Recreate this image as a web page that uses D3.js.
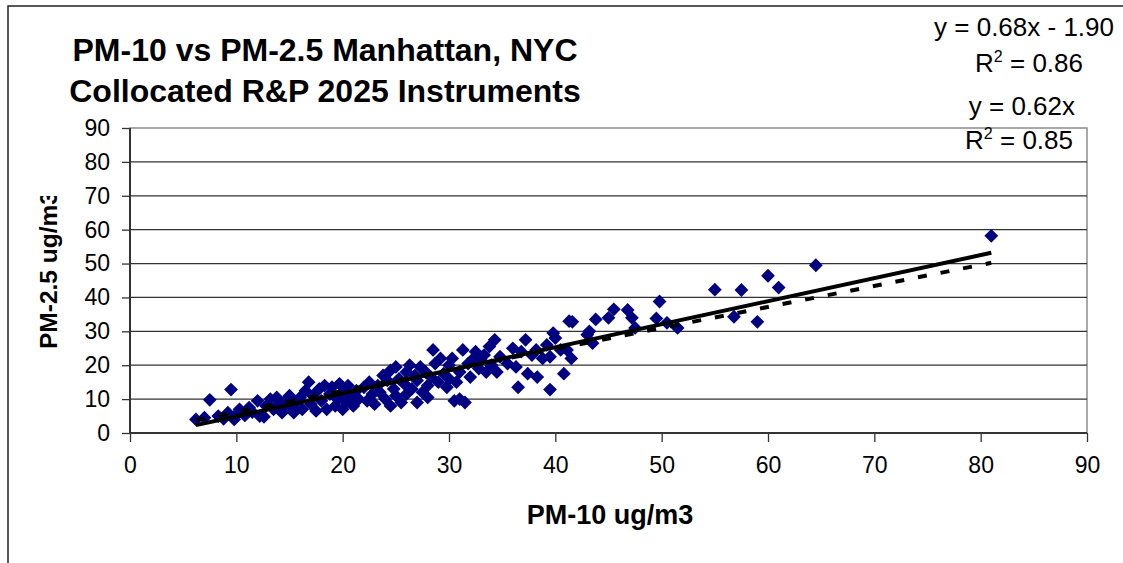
<!DOCTYPE html>
<html>
<head>
<meta charset="utf-8">
<script src="https://cdn.jsdelivr.net/npm/d3@7"></script>
<style>
  body { margin: 0; background: #fff; }
  text { font-family: Arial, "Liberation Sans", sans-serif; fill: #000; }
</style>
</head>
<body>
<svg id="chart" width="1123" height="563"></svg>
<script>
// PM-10 (x) vs PM-2.5 (y)
var pm10 = [6.2, 7.0, 7.5, 8.3, 8.8, 9.2, 9.5, 9.8, 10.0, 10.3,
  10.8, 11.2, 11.5, 12.0, 12.2, 12.6, 12.8, 13.2, 13.5, 13.8, 14.0, 14.3, 14.6, 15.0, 15.0,
  15.4, 15.6, 16.0, 16.2, 16.5, 16.8, 17.0, 17.2, 17.5, 17.8, 18.0, 18.3, 18.5, 18.8, 19.0, 19.3, 19.5, 19.7, 20.0, 20.0,
  20.3, 20.5, 20.8, 21.0, 21.3, 21.5, 22.0, 22.3, 22.5, 22.8, 23.0, 23.3, 23.5, 23.8, 24.0, 24.2, 24.5, 24.5, 24.8, 25.0, 25.0,
  25.3, 25.5, 25.8, 26.0, 26.0, 26.3, 26.5, 26.8, 27.0, 27.0, 27.3, 27.5, 27.8, 28.0, 28.0, 28.3, 28.5, 28.7, 29.0, 29.2, 29.5, 29.8, 30.0, 30.0,
  30.3, 30.5, 30.7, 31.0, 31.0, 31.3, 31.5, 31.8, 32.0, 32.3, 32.5, 32.8, 33.0, 33.3, 33.5, 33.8, 34.0, 34.3, 34.5, 34.8,
  35.5, 36.0, 36.3, 36.5, 36.8, 37.2, 37.4, 37.8, 38.2, 38.3, 38.8, 39.2, 39.5, 39.5, 39.8, 40.0, 40.5, 40.8, 41.1, 41.3, 41.5,
  41.6, 43.0, 43.2, 43.5, 43.8, 45.0, 45.5, 46.8, 47.2, 47.5, 49.5, 49.8, 50.5, 51.5,
  55.0, 56.8, 57.5, 59.0, 60.0, 61.0, 64.5, 81.0];
var pm25 = [4.0, 4.5, 9.8, 5.0, 4.2, 6.0, 12.8, 4.0, 5.5, 7.0,
  5.2, 7.5, 6.2, 9.5, 5.0, 4.8, 8.0, 10.0, 7.0, 10.5, 8.5, 6.0, 9.5, 7.5, 11.0,
  6.0, 9.0, 10.5, 7.0, 12.5, 15.0, 8.5, 11.0, 6.5, 13.0, 9.5, 14.0, 7.0, 11.5, 13.5, 8.0, 10.0, 14.5, 7.0, 12.0,
  9.0, 14.0, 11.0, 8.0, 12.5, 10.0, 13.5, 9.5, 15.0, 11.5, 8.5, 14.0, 12.0, 17.0, 10.0, 15.5, 8.0, 18.5, 13.0, 19.5, 11.0,
  16.0, 9.0, 14.5, 18.0, 11.5, 20.0, 13.0, 17.0, 9.0, 15.5, 19.5, 12.0, 18.0, 14.0, 10.5, 16.5, 24.5, 20.5, 15.0, 22.0, 17.5, 13.5, 20.0, 16.0,
  22.0, 9.5, 15.0, 10.0, 18.0, 24.5, 9.0, 20.5, 16.5, 22.0, 24.0, 19.0, 21.5, 23.0, 18.0, 25.5, 20.0, 27.5, 18.0, 22.5,
  20.5, 25.0, 19.5, 13.5, 24.0, 27.5, 17.5, 23.0, 24.5, 16.5, 22.0, 26.0, 12.8, 22.5, 29.5, 28.0, 24.5, 17.5, 24.5, 33.0, 22.0,
  32.8, 29.0, 30.0, 26.5, 33.5, 34.0, 36.5, 36.3, 34.0, 31.0, 33.8, 38.8, 32.5, 31.0,
  42.3, 34.3, 42.2, 32.8, 46.4, 42.9, 49.5, 58.2];

var xTicks = [0, 10, 20, 30, 40, 50, 60, 70, 80, 90];
var yTicks = [0, 10, 20, 30, 40, 50, 60, 70, 80, 90];

// trendlines as labelled on the chart
var fitSlope = 0.68, fitIntercept = -1.90, fitR2 = 0.86;
var originSlope = 0.62, originR2 = 0.85;

var titleLines = ["PM-10 vs PM-2.5 Manhattan, NYC", "Collocated R&P 2025 Instruments"];

var svg = d3.select("#chart");

var plot = { left: 130, right: 1087, top: 128, bottom: 433 };

var x = d3.scaleLinear().domain([0, 90]).range([plot.left, plot.right]);
var y = d3.scaleLinear().domain([0, 90]).range([plot.bottom, plot.top]);

// outer chart frame (only top and left edges show)
svg.append("path")
  .attr("d", "M8,563 L8,6 L1123,6")
  .attr("fill", "none")
  .attr("stroke", "#222")
  .attr("stroke-width", 1.5);

// plot area border
svg.append("rect")
  .attr("x", plot.left).attr("y", plot.top)
  .attr("width", plot.right - plot.left).attr("height", plot.bottom - plot.top)
  .attr("fill", "#fff")
  .attr("stroke", "#8c8c8c")
  .attr("stroke-width", 1.5);

// gridlines
svg.append("g")
  .selectAll("line")
  .data(yTicks.filter(function(d) { return d > 0 && d < 90; }))
  .enter().append("line")
  .attr("x1", plot.left).attr("x2", plot.right)
  .attr("y1", function(d) { return y(d); })
  .attr("y2", function(d) { return y(d); })
  .attr("stroke", "#333")
  .attr("stroke-width", 1.3);

// axes
var xAxis = d3.axisBottom(x).tickValues(xTicks).tickSize(9).tickPadding(15);
var yAxis = d3.axisLeft(y).tickValues(yTicks).tickSize(8).tickPadding(12);

var gx = svg.append("g")
  .attr("transform", "translate(0," + plot.bottom + ")")
  .call(xAxis);
var gy = svg.append("g")
  .attr("transform", "translate(" + plot.left + ",0)")
  .call(yAxis);

[gx, gy].forEach(function(g) {
  g.select(".domain").attr("stroke", "#333").attr("stroke-width", 2);
  g.selectAll(".tick line").attr("stroke", "#333").attr("stroke-width", 1.3);
  g.selectAll(".tick text")
    .attr("fill", "#000")
    .style("font-size", "23px")
    .style("font-family", "Arial, 'Liberation Sans', sans-serif");
});
gx.select(".domain").attr("d", "M" + plot.left + ",0H" + plot.right);
gy.select(".domain").attr("d", "M0," + plot.bottom + "V" + plot.top);

// points
var pts = pm10.map(function(d, i) { return [d, pm25[i]]; });
var diamond = d3.symbol().type(d3.symbolSquare).size(95);

svg.append("g")
  .selectAll("path")
  .data(pts)
  .enter().append("path")
  .attr("d", diamond)
  .attr("transform", function(d) {
    return "translate(" + x(d[0]) + "," + y(d[1]) + ") rotate(45)";
  })
  .attr("fill", "#000080");

// trendlines
var xMin = d3.min(pm10), xMax = d3.max(pm10);
var line = d3.line().x(function(d) { return x(d[0]); }).y(function(d) { return y(d[1]); });

svg.append("path")
  .datum([[xMin, originSlope * xMin], [xMax, originSlope * xMax]])
  .attr("d", line)
  .attr("fill", "none")
  .attr("stroke", "#000")
  .attr("stroke-width", 4)
  .attr("stroke-dasharray", "9,14");

svg.append("path")
  .datum([[xMin, fitSlope * xMin + fitIntercept], [xMax, fitSlope * xMax + fitIntercept]])
  .attr("d", line)
  .attr("fill", "none")
  .attr("stroke", "#000")
  .attr("stroke-width", 4);

// equation labels
function eqLabel(xr, yb, parts) {
  var t = svg.append("text")
    .attr("x", xr).attr("y", yb)
    .attr("text-anchor", "end")
    .style("font-size", "26px");
  parts.forEach(function(p) {
    var s = t.append("tspan").text(p.t);
    if (p.sup) s.attr("dy", -10).style("font-size", "16px");
    if (p.down) s.attr("dy", 10);
  });
}
eqLabel(1114, 36, [{ t: "y = " + fitSlope.toFixed(2) + "x - " + Math.abs(fitIntercept).toFixed(2) }]);
eqLabel(1083, 72, [{ t: "R" }, { t: "2", sup: true }, { t: " = " + fitR2.toFixed(2), down: true }]);
eqLabel(1075, 115, [{ t: "y = " + originSlope.toFixed(2) + "x" }]);
eqLabel(1073, 149, [{ t: "R" }, { t: "2", sup: true }, { t: " = " + originR2.toFixed(2), down: true }]);

// title
svg.append("g")
  .selectAll("text")
  .data(titleLines)
  .enter().append("text")
  .attr("x", 325)
  .attr("y", function(d, i) { return 61 + i * 41; })
  .attr("text-anchor", "middle")
  .style("font-size", "32px")
  .style("font-weight", "bold")
  .text(function(d) { return d; });

// axis titles
svg.append("text")
  .attr("x", 610).attr("y", 524)
  .attr("text-anchor", "middle")
  .style("font-size", "27px")
  .style("font-weight", "bold")
  .text("PM-10 ug/m3");

svg.append("clipPath").attr("id", "ytclip")
  .append("rect").attr("x", 0).attr("y", 196).attr("width", 120).attr("height", 300);

svg.append("g").attr("clip-path", "url(#ytclip)")
  .append("text")
  .attr("transform", "translate(57,349) rotate(-90)")
  .attr("text-anchor", "start")
  .style("font-size", "24.5px")
  .style("font-weight", "bold")
  .text("PM-2.5 ug/m3");
</script>
</body>
</html>
